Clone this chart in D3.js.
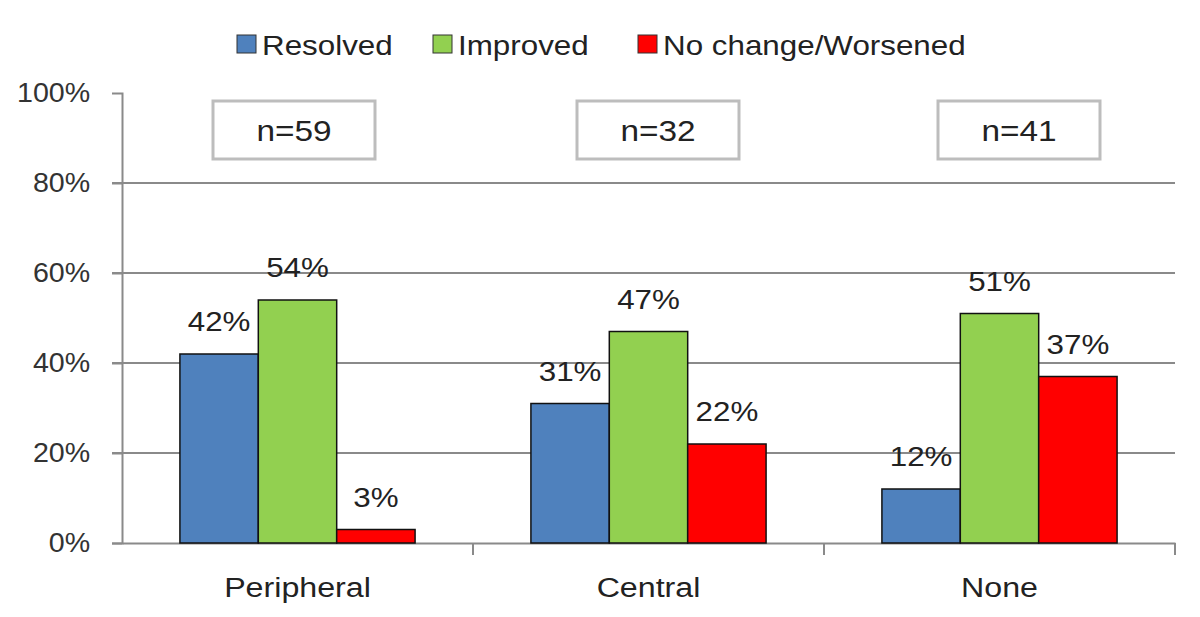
<!DOCTYPE html>
<html>
<head>
<meta charset="utf-8">
<script src="https://cdn.jsdelivr.net/npm/d3@7"></script>
<style>
  body { margin: 0; background: #fff; }
  text { font-family: "Liberation Sans", Arial, sans-serif; }
</style>
</head>
<body>
<svg class="s"></svg>
<script>
var categories = ['Peripheral', 'Central', 'None'];
var series = ['Resolved', 'Improved', 'No change/Worsened'];
var colors = ['#4F81BD', '#92D050', '#FF0000'];
var resolved = [42, 31, 12];
var improved = [54, 47, 51];
var worsened = [3, 22, 37];
var nLabels = ['n=59', 'n=32', 'n=41'];
var yTicks = [0, 20, 40, 60, 80, 100];

var w = 1200;
var h = 617;
var plotLeft = 122, plotRight = 1175, plotTop = 93, plotBottom = 543;
var stretch = 'scale(1.12,1)';

var svg = d3.select('.s')
            .attr('width', w)
            .attr('height', h);

var x = d3.scaleBand()
          .domain(categories)
          .range([plotLeft, plotRight])
          .paddingInner(0)
          .paddingOuter(0);

var x1 = d3.scaleBand()
           .domain(series)
           .range([0, x.bandwidth() * 0.67]);

var y = d3.scaleLinear()
          .domain([0, 100])
          .range([plotBottom, plotTop]);

// gridlines
svg.append('g')
   .selectAll('line')
   .data(yTicks.filter(function(d){ return d > 0 && d < 100; }))
   .enter()
   .append('line')
   .attr('x1', plotLeft - 10)
   .attr('x2', plotRight)
   .attr('y1', function(d){ return y(d); })
   .attr('y2', function(d){ return y(d); })
   .attr('stroke', '#8a8a8a')
   .attr('stroke-width', 2);

// y axis
var yAxis = d3.axisLeft(y)
              .tickValues(yTicks)
              .tickSize(10)
              .tickPadding(20)
              .tickFormat(function(d){ return d + '%'; });

var gy = svg.append('g')
            .attr('transform', 'translate(' + plotLeft + ',0)')
            .call(yAxis);
gy.select('.domain').attr('stroke', '#8a8a8a').attr('stroke-width', 2);
gy.selectAll('.tick line').attr('stroke', '#8a8a8a').attr('stroke-width', 2);
gy.selectAll('.tick').filter(function(d){ return d == 100; }).select('line').remove();
gy.selectAll('.tick text')
  .attr('font-size', 27)
  .attr('fill', '#333')
  .attr('transform', 'scale(1.06,1)')
  .attr('font-family', '"Liberation Sans", Arial, sans-serif');

// x axis
var xAxis = d3.axisBottom(x)
              .tickValues([])
              .tickSizeOuter(0);
var gx = svg.append('g')
            .attr('transform', 'translate(0,' + plotBottom + ')')
            .call(xAxis);
gx.select('.domain').attr('stroke', '#8a8a8a').attr('stroke-width', 2);

// boundary ticks
var bounds = categories.map(function(c){ return x(c) + x.bandwidth(); });
svg.append('g')
   .selectAll('line')
   .data(bounds)
   .enter()
   .append('line')
   .attr('x1', function(d){ return d; })
   .attr('x2', function(d){ return d; })
   .attr('y1', plotBottom)
   .attr('y2', plotBottom + 12)
   .attr('stroke', '#8a8a8a')
   .attr('stroke-width', 2);

// category labels
svg.append('g')
   .selectAll('text')
   .data(categories)
   .enter()
   .append('text')
   .attr('transform', function(d){ return 'translate(' + (x(d) + x.bandwidth() / 2) + ',597) scale(1.15,1)'; })
   .attr('text-anchor', 'middle')
   .attr('font-size', 28)
   .attr('fill', '#222')
   .text(function(d){ return d; });

// bars
var values = [resolved, improved, worsened];
var rows = [];
categories.forEach(function(c, i){
  series.forEach(function(s, j){
    rows.push({cat: c, ser: s, idx: j, val: values[j][i]});
  });
});

var groupOffset = (x.bandwidth() - x1.range()[1]) / 2;

var bars = svg.append('g')
              .selectAll('g')
              .data(rows)
              .enter()
              .append('g');

bars.append('rect')
    .attr('x', function(d){ return x(d.cat) + groupOffset + x1(d.ser); })
    .attr('y', function(d){ return y(d.val); })
    .attr('width', x1.bandwidth())
    .attr('height', function(d){ return plotBottom - y(d.val); })
    .attr('fill', function(d){ return colors[d.idx]; })
    .attr('stroke', '#111')
    .attr('stroke-width', 1.5);

bars.append('text')
    .attr('transform', function(d){
      var cx = x(d.cat) + groupOffset + x1(d.ser) + x1.bandwidth() / 2;
      return 'translate(' + cx + ',' + (y(d.val) - 23) + ') ' + stretch;
    })
    .attr('text-anchor', 'middle')
    .attr('font-size', 28)
    .attr('fill', '#222')
    .text(function(d){ return d.val + '%'; });

// n boxes
var boxCenters = [294, 658, 1019];
var nb = svg.append('g')
            .selectAll('g')
            .data(nLabels)
            .enter()
            .append('g');
nb.append('rect')
  .attr('x', function(d, i){ return boxCenters[i] - 81; })
  .attr('y', 101)
  .attr('width', 162)
  .attr('height', 58)
  .attr('fill', '#fff')
  .attr('stroke', '#bdbdbd')
  .attr('stroke-width', 3);
nb.append('text')
  .attr('transform', function(d, i){ return 'translate(' + boxCenters[i] + ',141) scale(1.15,1)'; })
  .attr('text-anchor', 'middle')
  .attr('font-size', 29)
  .attr('fill', '#222')
  .text(function(d){ return d; });

// legend
var legendX = [237, 433, 638];
var lg = svg.append('g')
            .selectAll('g')
            .data(series)
            .enter()
            .append('g')
            .attr('transform', function(d, i){ return 'translate(' + legendX[i] + ',0)'; });
lg.append('rect')
  .attr('x', 0)
  .attr('y', 35)
  .attr('width', 19)
  .attr('height', 18)
  .attr('fill', function(d, i){ return colors[i]; })
  .attr('stroke', '#333')
  .attr('stroke-width', 1);
lg.append('text')
  .attr('transform', 'translate(25,55) ' + stretch)
  .attr('font-size', 28)
  .attr('fill', '#222')
  .text(function(d){ return d; });
</script>
</body>
</html>
